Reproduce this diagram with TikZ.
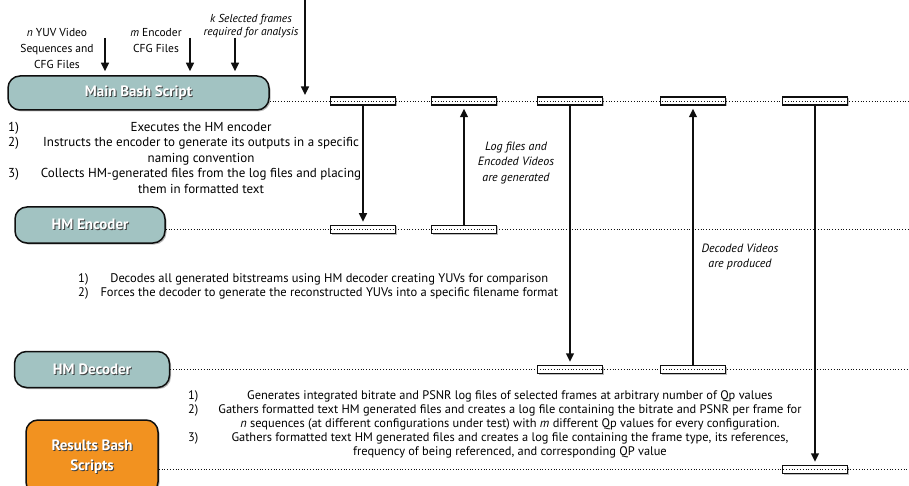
\documentclass[tikz,border=0pt]{standalone}
\usepackage{fontspec}
\setmainfont{PT Sans}
\usetikzlibrary{arrows.meta,positioning,shadows}
\definecolor{ink}{RGB}{15,15,15}
\definecolor{slate}{RGB}{162,195,194}
\definecolor{amber}{RGB}{242,146,32}
\newcommand\boxtxt[1]{\makebox[0pt][l]{\hspace{1pt}\raisebox{-1pt}{\textcolor{black!75}{#1}}}\textcolor{white}{#1}}
\tikzset{
  actor/.style={draw=ink,line width=1.5pt,rounded corners=12pt,fill=slate,
    font=\fontsize{15}{20}\selectfont\bfseries,align=center,
    drop shadow={opacity=0.55,shadow xshift=1.5pt,shadow yshift=-1.5pt}},
  bar/.style={draw=ink,line width=1.5pt,fill=white,minimum width=65pt,
    minimum height=8pt,inner sep=0pt,
    drop shadow={opacity=0.5,shadow xshift=1pt,shadow yshift=-1pt}},
  life/.style={dotted,line width=0.8pt,ink},
  msg/.style={-{Triangle[length=8.5pt,width=8pt]},line width=1.5pt,ink},
  note/.style={font=\fontsize{12.4}{14}\selectfont,align=center,inner sep=0pt},
  tag/.style={font=\fontsize{12}{15.5}\selectfont\itshape,align=center,inner sep=0pt},
  feed/.style={font=\fontsize{11.5}{16}\selectfont,align=center,inner sep=0pt},
}
\begin{document}
\begin{tikzpicture}[x=1pt,y=-1pt]
  \useasboundingbox (0,0) rectangle (909,486);

  % the four actors
  \node[actor,minimum width=261pt,minimum height=34pt] (main) at (138.5,93)
    {\boxtxt{Main Bash Script}};
  \node[actor,minimum width=150pt,minimum height=36pt] (enc) at (90,225)
    {\boxtxt{HM Encoder}};
  \node[actor,minimum width=155pt,minimum height=36pt] (dec) at (92,369.5)
    {\boxtxt{HM Decoder}};
  \node[actor,fill=amber,minimum width=132pt,minimum height=74pt] (res) at (92,457)
    {\boxtxt{Results Bash}\\\boxtxt{Scripts}};

  % lifeline ends
  \coordinate (mainend) at (909,101);
  \coordinate (encend) at (909,229.5);
  \coordinate (decend) at (909,369.5);
  \coordinate (resend) at (909,469.5);

  % activation bars
  \foreach \n/\x in {1/363,2/464,3/570,4/693,5/815}
    \node[bar] (mb\n) at (\x,101) {};
  \foreach \n/\x in {1/363,2/464}
    \node[bar] (eb\n) at (\x,229.5) {};
  \foreach \n/\x in {1/570,2/693}
    \node[bar] (db\n) at (\x,369.5) {};
  \node[bar] (rb1) at (815,469.5) {};

  \draw[life] (main.east |- mainend) -- (mainend);
  \draw[life] (enc.east |- encend) -- (encend);
  \draw[life] (dec.east |- decend) -- (decend);
  \draw[life] (res.east |- resend) -- (resend);

  % inputs of the main script
  \node[feed] (seq) at (57,49) {\textit{n} YUV Video\\Sequences and\\CFG Files};
  \node[feed] (cfg) at (156,41) {\textit{m} Encoder\\CFG Files};
  \node[feed,font=\fontsize{11.5}{13}\selectfont\itshape] (sel) at (251,26.5)
    {k Selected frames\\required for analysis};
  \coordinate (in1) at (105,38);
  \coordinate (in2) at (190,38);
  \coordinate (in3) at (235,38);
  \coordinate (in4) at (305,0);
  \foreach \c in {in1,in2,in3}
    \draw[msg,shorten >=4pt] (\c) -- (\c |- main.north);
  \draw[msg,shorten >=6pt] (in4) -- (in4 |- mainend);

  % messages
  \draw[msg,shorten >=3pt] (mb1) -- (eb1);
  \draw[msg,shorten >=3pt] (eb2) -- (mb2);
  \draw[msg,shorten >=3pt] (mb3) -- (db1);
  \draw[msg,shorten >=3pt] (db2) -- (mb4);
  \draw[msg,shorten >=3pt] (mb5) -- (rb1);

  \node[tag] (enclbl) at (516,163) {Log files and\\Encoded Videos\\are generated};
  \node[tag] (declbl) at (740,257) {Decoded Videos\\are produced};

  % what each step does
  \node[note,font=\fontsize{13}{15.5}\selectfont,anchor=west] (mainlist) at (8,159)
    {\begin{tabular}{@{}l@{\hspace{22pt}}c@{}}
      1) & Executes the HM encoder\\
      2) & Instructs the encoder to generate its outputs in a specific\\
         & naming convention\\
      3) & Collects HM-generated files from the log files and placing\\
         & them in formatted text
    \end{tabular}};
  \node[note,font=\fontsize{12.5}{14}\selectfont,anchor=west] (declist) at (78,287)
    {\begin{tabular}{@{}l@{\hspace{12pt}}c@{}}
      1) & Decodes all generated bitstreams using HM decoder creating YUVs for comparison\\
      2) & Forces the decoder to generate the reconstructed YUVs into a specific filename format
    \end{tabular}};
  \node[note,anchor=west] (reslist) at (188,425)
    {\begin{tabular}{@{}l@{\hspace{20pt}}c@{}}
      1) & Generates integrated bitrate and PSNR log files of selected frames at arbitrary number of Qp values\\
      2) & Gathers formatted text HM generated files and creates a log file containing the bitrate and PSNR per frame for\\
         & \textit{n} sequences (at different configurations under test) with \textit{m} different Qp values for every configuration.\\
      3) & Gathers formatted text HM generated files and creates a log file containing the frame type, its references,\\
         & frequency of being referenced, and corresponding QP value
    \end{tabular}};
\end{tikzpicture}
\end{document}
